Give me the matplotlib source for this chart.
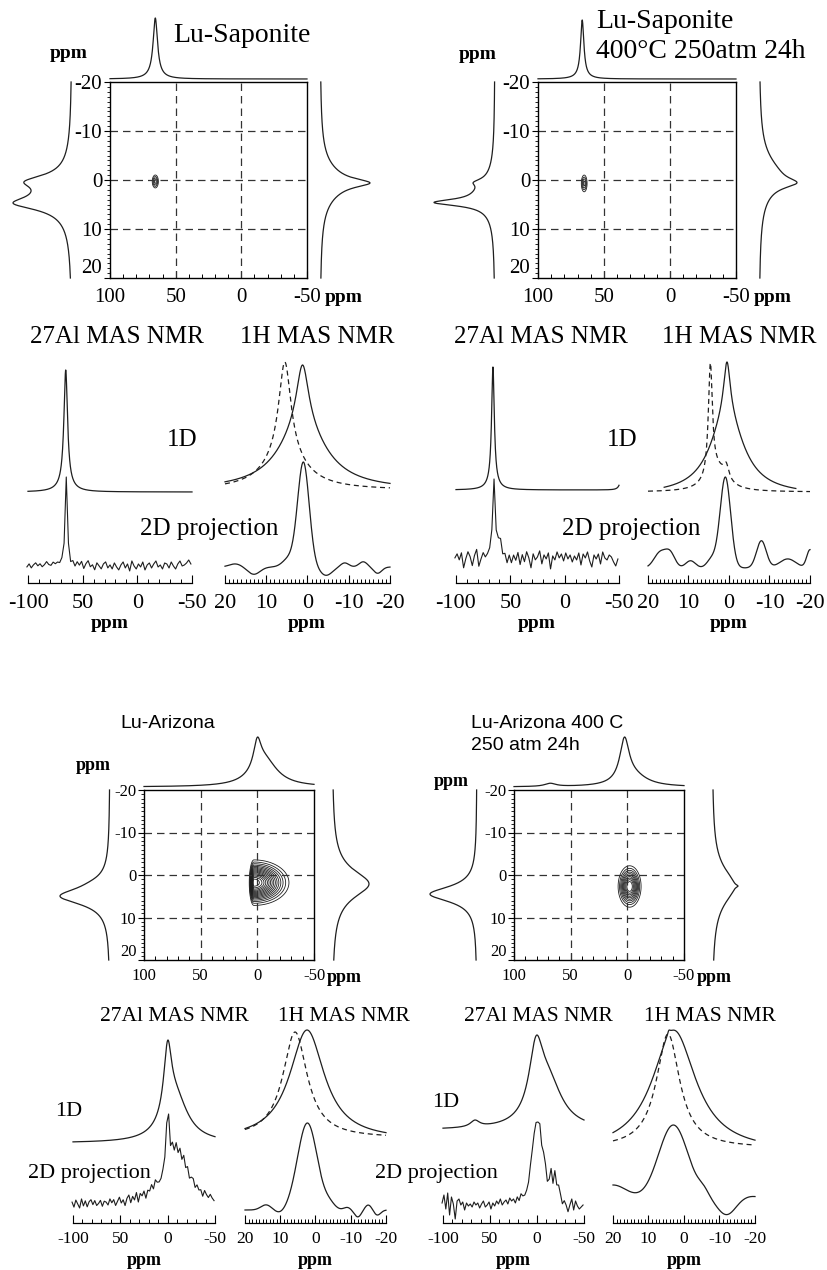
import numpy as np
import matplotlib.pyplot as plt

plt.rcParams['font.family'] = ['Liberation Serif', 'DejaVu Serif']
plt.rcParams['axes.unicode_minus'] = False

# ---------------- data (peaks: centre ppm, half width ppm, height) ----------------
# Lu-Saponite
sap_top = [(65.5, 2.0, 1.0), (65.5, 7.0, 0.06)]
sap_left = [(4.8, 1.5, 0.65), (0.3, 1.5, 0.5), (3.0, 4.0, 0.35)]
sap_right = [(0.6, 1.0, 0.6), (0.6, 4.0, 0.4)]
sap_spot = (65.5, 0.3, 1.5, 1.5, 0.85)      # x, y, width left, width right, width y
sap_al_1d = [(65.5, 2.0, 1.0), (65.5, 8.0, 0.05)]
sap_al_2d = [(65.0, 1.2, 1.0)]
sap_al_noise = [
    0, 3, -1, 2, 4, 1, 3, 0, 2, 5, 2, 1, 4, 2, 3, 1, 2, 0, 0,
    0, -2, 3, -1, 4, 1, 5, -2, 3, 6, 0, 2, -3, 4, 1, -2, 3, 5, -1,
    2, -2, 4, 0, -3, 2, 5, -1, 3, -4, 6, 1, -2, 3, 0, 5, -3, 2, 4,
    -1, 3, 6, 0, 2, -2, 4, 3, -1, 5, 1, -2, 3, 6, 1, 2, 4, 7, 3,
]
sap_h_1d = [(1.2, 1.8, 0.5), (1.2, 7.0, 0.5)]
sap_h_dash = [(5.5, 1.8, 0.75), (5.5, 6.0, 0.25)]
sap_h_2d = [(1.0, 1.4, 1.0), (4.5, 1.5, 0.08), (17.5, 1.5, 0.03), (13, 1.5, -0.07),
            (-4.5, 1.5, -0.08), (-9, 1.0, 0.04), (-13.5, 1.0, 0.05), (-17, 1.0, -0.06)]

# Lu-Saponite 400C 250atm 24h
s4_top = [(66.5, 1.5, 1.0), (66.5, 6.0, 0.05)]
s4_left = [(4.6, 0.8, 0.75), (0.5, 0.8, 0.15), (3.0, 3.5, 0.25)]
s4_right = [(0.6, 1.2, 0.55), (-1.0, 4.5, 0.45)]
s4_spot = (65.0, 0.7, 1.4, 1.4, 1.1)
s4_al_1d = [(66.0, 1.5, 1.0), (66.0, 6.0, 0.05), (-52, 2.0, 0.08)]
s4_al_2d = [(65.0, 1.2, 1.0), (58.0, 2.0, 0.22)]
s4_al_noise = [
    4, 8, 2, 9, -6, 3, 10, 5, -4, 6, 12, -5, 2, 8, 3, 5, 7, 10, 0,
    8, 12, 6, -8, 2, -4, 5, -2, 6, 1, 9, -3, 7, 0, 10, 4, -6, 8, 2,
    5, 11, -2, 7, 3, 9, -7, 6, 2, 10, 4, 8, 1, 9, 3, 7, 0, 6, 2,
    9, -3, 8, 4, 10, 1, -5, 7, 3, 8, -2, 10, 4, 2, 7, 5, 0, -4, 3,
]
s4_h_1d = [(0.5, 1.0, 0.4), (0.5, 5.0, 0.6)]
s4_h_dash = [(4.6, 0.6, 0.8), (0.7, 0.8, 0.1), (3.0, 3.0, 0.15)]
s4_h_2d = [(0.9, 1.3, 1.0), (17, 1.5, 0.17), (14.5, 1.2, 0.15), (9.5, 1.2, 0.08),
           (4.2, 1.2, 0.1), (-8, 1.2, 0.3), (-14.5, 2.0, 0.1), (-20, 0.8, 0.2)]

# Lu-Arizona
ari_top = [(0.0, 4.0, 0.5), (-6.0, 14.0, 0.5)]
ari_left = [(5.0, 2.4, 1.0), (2.0, 2.0, 0.1)]
ari_right = [(2.1, 4.0, 1.0)]
ari_spot = (3.0, 1.8, 2.0, 15.0, 2.6)
ari_al_1d = [(0.0, 5.0, 0.6), (-8.0, 16.0, 0.4)]
ari_al_2d = [(0.0, 2.0, 0.55), (-10.0, 14.0, 0.5)]
ari_al_noise = [
    2, -3, 4, 0, -4, 5, -2, 3, -3, 2, 4, -1, 3, -2, 0, 3, -3, 2, 1,
    -2, 4, 0, 3, -3, 1, 5, -1, 2, -4, 3, 6, -2, 4, 0, 7, -3, 5, 2,
    6, -2, 5, 3, 8, 2, 9, 4, 1, 0, 2, 0, 0, 4, -3, 6, -2, 5, -4,
    3, -4, 5, -2, 4, -3, 2, 4, -2, 3, 0, 2, -3, 4, 1, -1, 3, 0, -2,
]
ari_h_1d = [(2.4, 6.0, 1.0)]
ari_h_dash = [(5.8, 4.2, 1.0)]
ari_h_2d = [(2.3, 2.8, 1.0), (14, 1.5, 0.06), (10, 1.5, -0.04), (-4, 1.5, 0.06),
            (-9, 1.0, 0.03), (-12, 1.0, -0.08), (-15, 1.0, 0.06), (-17.5, 1.0, -0.06)]

# Lu-Arizona 400 C 250 atm 24h
a4_top = [(2.5, 5.0, 0.8), (-5.0, 15.0, 0.2), (68.0, 6.0, 0.06)]
a4_left = [(4.5, 2.2, 1.0)]
a4_right = [(2.6, 0.4, 0.15), (2.6, 5.0, 0.85)]
a4_spot = (-2.0, 2.7, 5.2, 5.2, 2.5)
a4_al_1d = [(1.0, 9.0, 0.6), (-12.0, 18.0, 0.4), (66.0, 6.0, 0.06)]
a4_al_2d = [(-0.5, 6.0, 1.0), (-18.0, 5.0, 0.3)]
a4_al_noise = [
    4, 12, -2, 14, -8, 10, 3, -12, 6, 8, 2, 5, -3, 4, 1, 3, 0, 5, 2,
    4, -1, 3, 6, 0, 2, 5, -2, 4, 1, 6, 3, 8, 2, 5, 7, 3, 9, 6,
    8, 4, 10, 6, 12, 8, 5, 3, 0, 2, 0, 0, 0, -2, 3, -5, 4, 6, -3,
    2, 12, -4, 10, 0, 6, 3, -2, 4, 1, -5, 2, 8, -3, 6, 1, -2, 0, 2,
]
a4_h_1d = [(2.8, 7.5, 1.0), (4.3, 0.5, 0.04)]
a4_h_dash = [(4.5, 4.0, 1.0)]
a4_h_2d = [(3.0, 4.2, 1.0), (20, 4.0, 0.2), (-5.5, 1.5, 0.08), (-12, 2.5, -0.2), (-19, 3.0, 0.05)]

al_ticks = [100, 50, 0, -50]
al_ticklabels = ['-100', '50', '0', '-50']
h_ticks = [20, 10, 0, -10, -20]
map_yticks = [-20, -10, 0, 10, 20]

# ---------------- helpers ----------------
W, H = 828, 1270
LC = '#1e1e1e'
LW = 0.9
fig = plt.figure(figsize=(W / 100, H / 100), dpi=100)

ppm_h = np.linspace(20, -20, 801)
ppm_al = np.linspace(100, -50, 1201)
al_grid = np.arange(101.0, -50.0, -2.0)


def axes_px(x0, y0, x1, y1):
    return fig.add_axes([x0 / W, 1 - y1 / H, (x1 - x0) / W, (y1 - y0) / H])


def text_px(x, y, s, size, **kw):
    fig.text(x / W, 1 - y / H, s, fontsize=size, va='baseline', **kw)


def lorentz(x, peaks):
    y = np.zeros_like(x)
    for c, w, h in peaks:
        y = y + h / (1 + ((x - c) / w) ** 2)
    return y / y.max()


def gauss(x, peaks):
    y = np.zeros_like(x)
    for c, w, h in peaks:
        y = y + h * np.exp(-0.5 * ((x - c) / w) ** 2)
    return y / y.max()


def spot_map(X, Y, s):
    cx, cy, wl, wr, wy = s
    wx = np.where(X > cx, wl, wr)
    return np.exp(-0.5 * ((X - cx) / wx) ** 2 - 0.5 * ((Y - cy) / wy) ** 2)


def lower_axes(rect, kind, fs, pad):
    ax = axes_px(*rect)
    for s in ['top', 'left', 'right']:
        ax.spines[s].set_visible(False)
    ax.spines['bottom'].set_linewidth(0.9)
    if kind == 'al':
        ax.set_xlim(100, -50)
        ax.set_xticks(al_ticks)
        ax.set_xticklabels(al_ticklabels)
        ax.set_xticks(np.arange(100, -51, -10), minor=True)
    else:
        ax.set_xlim(20, -20)
        ax.set_xticks(h_ticks)
        ax.set_xticks(np.arange(20, -21, -1), minor=True)
    ax.tick_params(axis='x', which='major', direction='in', length=6, width=0.8,
                   labelsize=fs, pad=pad)
    ax.tick_params(axis='x', which='minor', direction='in', length=3, width=0.7)
    ax.set_yticks([])
    ax.set_ylim(0, rect[3] - rect[1])
    ax.patch.set_alpha(0)
    return ax


def draw_panel(g, top, left, right, spot, levels, al_1d, al_2d, al_noise, al_kind,
               h_1d, h_span, h_dash, h_2d):
    # projections around the map
    ax = axes_px(*g['top'])
    ax.plot(ppm_al, lorentz(ppm_al, top), color=LC, lw=LW, clip_on=False)
    ax.set_xlim(100, -50)
    ax.set_ylim(0, 1)
    ax.axis('off')

    ax = axes_px(*g['left'])
    ax.plot(lorentz(ppm_h, left), ppm_h, color=LC, lw=LW, clip_on=False)
    ax.set_xlim(1, 0)
    ax.set_ylim(20, -20)
    ax.axis('off')

    ax = axes_px(*g['right'])
    ax.plot(lorentz(ppm_h, right), ppm_h, color=LC, lw=LW, clip_on=False)
    ax.set_xlim(0, 1)
    ax.set_ylim(20, -20)
    ax.axis('off')

    # 2D map
    ax = axes_px(*g['box'])
    X, Y = np.meshgrid(np.linspace(100, -50, 500), np.linspace(-20, 20, 400))
    ax.contour(X, Y, spot_map(X, Y, spot), levels=levels, colors=LC, linewidths=0.6)
    for v in (50, 0):
        ax.axvline(v, color='#333333', lw=0.9, ls=(0, (6, 4)))
    for v in (-10, 0, 10):
        ax.axhline(v, color='#333333', lw=0.9, ls=(0, (6, 4)))
    ax.set_xlim(100, -50)
    ax.set_ylim(20, -20)
    ax.set_xticks(al_ticks)
    ax.set_xticks(np.arange(100, -51, -10), minor=True)
    ax.set_yticks(map_yticks)
    ax.set_yticks(np.arange(-20, 21, 1), minor=True)
    fs = g['map_fs']
    ax.tick_params(axis='x', which='major', direction='in', length=5, width=0.8,
                   labelsize=fs, pad=g['map_pad'])
    ax.tick_params(axis='x', which='minor', direction='in', length=3, width=0.7)
    ax.tick_params(axis='y', which='major', direction='out', length=4, width=0.8,
                   labelsize=fs, pad=1.5)
    ax.tick_params(axis='y', which='minor', direction='out', length=2, width=0.6)
    ax.get_yticklabels()[-1].set_va('bottom')
    for s in ax.spines.values():
        s.set_linewidth(1.0)

    # 27Al spectra
    ax = lower_axes(g['al'], 'al', g['low_fs'], g['low_pad'])
    o1, a1, o2, a2 = g['al_off']
    ax.plot(ppm_al, o1 + a1 * lorentz(ppm_al, al_1d), color=LC, lw=LW, clip_on=False)
    s2 = gauss(al_grid, al_2d) if al_kind == 'gauss' else lorentz(al_grid, al_2d)
    ax.plot(al_grid, o2 + a2 * s2 + np.array(al_noise), color=LC, lw=0.8, clip_on=False)

    # 1H spectra
    ax = lower_axes(g['h'], 'h', g['low_fs'], g['low_pad'])
    o1, a1, od, ad, o2, a2 = g['h_off']
    x = np.linspace(h_span[0], h_span[1], 700)
    ax.plot(x, o1 + a1 * lorentz(x, h_1d), color=LC, lw=LW, clip_on=False)
    ax.plot(ppm_h, od + ad * lorentz(ppm_h, h_dash), color=LC, lw=LW,
            ls=(0, (4, 3)), clip_on=False)
    ax.plot(ppm_h, o2 + a2 * gauss(ppm_h, h_2d), color=LC, lw=LW, clip_on=False)


# ---------------- layout in pixels ----------------
g1 = dict(box=(110, 82, 307, 278), top=(110, 18, 307, 79), left=(13, 82, 72, 278),
          right=(320, 82, 370, 278), map_fs=15, map_pad=7,
          al=(28, 355, 192, 583), h=(225, 355, 390, 583), low_fs=16, low_pad=8,
          al_off=(91, 122, 16, 90), h_off=(93, 125, 93, 128, 16, 105))
g2 = dict(box=(538, 82, 736, 278), top=(538, 20, 736, 79), left=(434, 82, 495, 278),
          right=(759, 82, 797, 278), map_fs=15, map_pad=7,
          al=(456, 355, 619, 583), h=(648, 355, 810, 583), low_fs=16, low_pad=8,
          al_off=(93, 123, 21, 83), h_off=(88, 133, 91, 129, 15, 91))
g3 = dict(box=(144, 790, 314, 960), top=(144, 737, 314, 787), left=(60, 790, 110, 960),
          right=(332, 790, 369, 960), map_fs=12, map_pad=6,
          al=(73, 1025, 215, 1223), h=(245, 1025, 386, 1223), low_fs=12.5, low_pad=6,
          al_off=(80, 103, 18, 87), h_off=(83, 110, 85, 106, 13, 87))
g4 = dict(box=(514, 790, 684, 960), top=(514, 737, 684, 787), left=(430, 790, 477, 960),
          right=(712, 790, 738, 960), map_fs=12, map_pad=6,
          al=(443, 1025, 584, 1223), h=(613, 1025, 755, 1223), low_fs=12.5, low_pad=6,
          al_off=(93, 95, 16, 87), h_off=(71, 122, 75, 114, 23, 75))

draw_panel(g1, sap_top, sap_left, sap_right, sap_spot, np.linspace(0.3, 0.9, 4),
           sap_al_1d, sap_al_2d, sap_al_noise, 'lor', sap_h_1d, (20, -20), sap_h_dash, sap_h_2d)
draw_panel(g2, s4_top, s4_left, s4_right, s4_spot, np.linspace(0.3, 0.9, 4),
           s4_al_1d, s4_al_2d, s4_al_noise, 'lor', s4_h_1d, (16, -16.5), s4_h_dash, s4_h_2d)
draw_panel(g3, ari_top, ari_left, ari_right, ari_spot, np.linspace(0.12, 0.95, 16),
           ari_al_1d, ari_al_2d, ari_al_noise, 'lor', ari_h_1d, (20, -20), ari_h_dash, ari_h_2d)
draw_panel(g4, a4_top, a4_left, a4_right, a4_spot, np.linspace(0.15, 0.9, 10),
           a4_al_1d, a4_al_2d, a4_al_noise, 'gauss', a4_h_1d, (20, -20), a4_h_dash, a4_h_2d)

# ---------------- texts ----------------
sans = ['Liberation Sans', 'DejaVu Sans']
text_px(173, 42, 'Lu-Saponite', 20)
text_px(596, 28, 'Lu-Saponite', 20)
text_px(596, 58, '400°C 250atm 24h', 20)
text_px(120, 728, 'Lu-Arizona', 14, family=sans)
text_px(471, 728, 'Lu-Arizona 400 C', 14, family=sans)
text_px(471, 750, '250 atm 24h', 14, family=sans)

for x, y, fs in [(50, 58, 14), (325, 302, 14), (459, 59, 14), (754, 302, 14),
                 (76, 770, 13), (327, 982, 13), (434, 786, 13), (697, 982, 13)]:
    text_px(x, y, 'ppm', fs, fontweight='bold')
for x, y, fs in [(110, 628, 14), (307, 628, 14), (537, 628, 14), (729, 628, 14),
                 (144, 1265, 13), (315, 1265, 13), (513, 1265, 13), (684, 1265, 13)]:
    text_px(x, y, 'ppm', fs, fontweight='bold', ha='center')

for x0, y, fs in [(30, 343, 18), (454, 343, 18), (100, 1021, 15.5), (464, 1021, 15.5)]:
    text_px(x0, y, '27Al MAS NMR', fs)
for x0, y, fs in [(240, 343, 18), (662, 343, 18), (278, 1021, 15.5), (644, 1021, 15.5)]:
    text_px(x0, y, '1H MAS NMR', fs)
for x0, y, fs in [(167, 446, 18), (607, 446, 18), (55, 1116, 16), (432, 1107, 16)]:
    text_px(x0, y, '1D', fs)
for x0, y, fs in [(140, 535, 18), (562, 535, 18), (28, 1178, 16), (375, 1178, 16)]:
    text_px(x0, y, '2D projection', fs)

fig.savefig('out.png', dpi=100, facecolor='white')
